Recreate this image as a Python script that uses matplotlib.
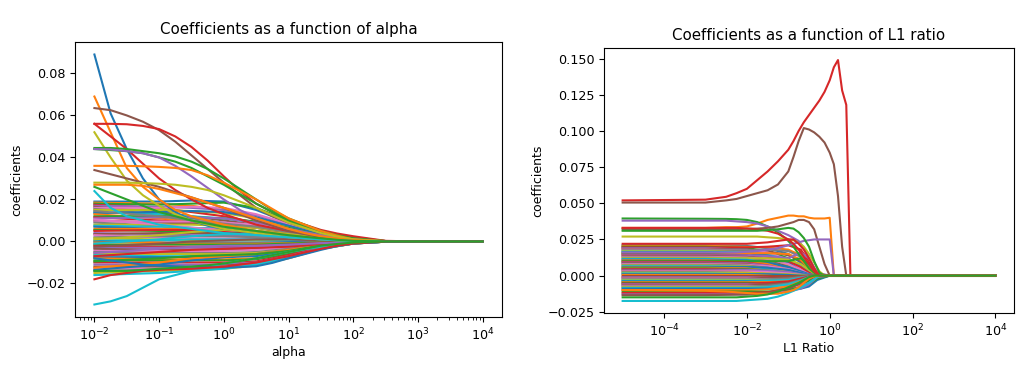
import numpy as np
import matplotlib
matplotlib.use("Agg")
import matplotlib.pyplot as plt
from matplotlib.ticker import NullLocator

# ---- left panel: coefficients vs alpha (values in 1e-3) ----
# coarse log10(alpha) grid for the dense band of coefficients
alpha_band_log = [-2, -1, -0.5, 0, 0.5, 1, 1.5, 2, 2.5, 4]
alpha_band = [
    [19, 19, 19.5, 19, 15, 9, 4, 1.2, 0.2, 0],
    [18.5, 18, 17, 15, 11.5, 7, 3, 0.8, 0.1, 0],
    [18, 17.5, 18, 18.5, 16, 10, 4.5, 1.3, 0.2, 0],
    [17.5, 16, 14, 12, 9, 5.5, 2.5, 0.7, 0.1, 0],
    [17, 16.5, 16, 15, 12.5, 8, 3.5, 1, 0.1, 0],
    [16.5, 14, 12, 10, 8, 5, 2.2, 0.6, 0.1, 0],
    [16, 16, 16.5, 16, 13, 8.5, 3.8, 1.1, 0.2, 0],
    [15.5, 13, 11, 9, 7, 4.5, 2, 0.6, 0.1, 0],
    [15, 15, 14.5, 13.5, 11, 7, 3.2, 0.9, 0.1, 0],
    [14, 13, 12, 11, 9, 6, 2.8, 0.8, 0.1, 0],
    [13.5, 14, 14.5, 14, 11.5, 7.5, 3.3, 1, 0.1, 0],
    [13, 11, 9.5, 8, 6.5, 4, 1.8, 0.5, 0.1, 0],
    [12, 12, 11.5, 11, 9.5, 6.5, 3, 0.9, 0.1, 0],
    [11.5, 10, 9, 8, 7, 4.5, 2, 0.6, 0.1, 0],
    [11, 11.5, 11.5, 11, 9, 6, 2.7, 0.8, 0.1, 0],
    [10, 9, 8.5, 8, 6.5, 4.2, 1.9, 0.5, 0.1, 0],
    [9.5, 9.5, 9.5, 9, 8, 5.5, 2.5, 0.7, 0.1, 0],
    [9, 7.5, 6.5, 6, 5, 3.3, 1.5, 0.4, 0.05, 0],
    [8, 8, 8, 7.5, 6.5, 4.5, 2, 0.6, 0.1, 0],
    [7.5, 7, 6.5, 6, 5, 3.5, 1.6, 0.5, 0.05, 0],
    [7, 6, 5, 4.5, 4, 3, 1.4, 0.4, 0.05, 0],
    [6, 6, 6, 5.5, 5, 3.5, 1.7, 0.5, 0.05, 0],
    [5.5, 5, 4.5, 4, 3.5, 2.5, 1.2, 0.3, 0.05, 0],
    [5, 5.5, 5.5, 5, 4.5, 3, 1.4, 0.4, 0.05, 0],
    [4, 3.5, 3, 3, 2.5, 2, 1, 0.3, 0, 0],
    [3.5, 4, 4, 4, 3.5, 2.5, 1.2, 0.3, 0.05, 0],
    [3, 2, 1.5, 1.5, 1.5, 1, 0.5, 0.2, 0, 0],
    [2, 2.5, 2.5, 2.5, 2, 1.5, 0.7, 0.2, 0, 0],
    [1.5, 1, 0.5, 0.5, 0.5, 0.5, 0.3, 0.1, 0, 0],
    [0.5, 0.5, 1, 1, 1, 0.8, 0.4, 0.1, 0, 0],
    [0, -0.5, -0.5, -0.5, -0.5, -0.3, -0.2, -0.1, 0, 0],
    [-0.5, -0.5, -1, -1, -1, -0.8, -0.4, -0.1, 0, 0],
    [-1.5, -1.5, -1.5, -1.5, -1.5, -1, -0.5, -0.1, 0, 0],
    [-2, -2.5, -2.5, -2.5, -2, -1.5, -0.7, -0.2, 0, 0],
    [-3, -3, -3, -3, -2.5, -2, -1, -0.3, 0, 0],
    [-3.5, -4, -4, -4, -3.5, -2.5, -1.2, -0.3, -0.05, 0],
    [-4.5, -4.5, -4.5, -4.5, -4, -3, -1.4, -0.4, -0.05, 0],
    [-5, -5.5, -5.5, -5.5, -5, -3.5, -1.6, -0.5, -0.05, 0],
    [-6, -6, -6, -6, -5.5, -4, -1.9, -0.5, -0.05, 0],
    [-6.5, -7, -7, -7, -6.5, -4.5, -2.1, -0.6, -0.1, 0],
    [-7.5, -7.5, -7.5, -7.5, -7, -5, -2.3, -0.6, -0.1, 0],
    [-8, -8.5, -8.5, -8.5, -8, -5.5, -2.5, -0.7, -0.1, 0],
    [-9, -9, -9, -9, -8.5, -6, -2.8, -0.8, -0.1, 0],
    [-10, -10, -10, -10, -9.5, -6.5, -3, -0.9, -0.1, 0],
    [-11, -11, -11, -11, -10, -7, -3.2, -0.9, -0.1, 0],
    [-12, -12, -12, -11.5, -10.5, -7.5, -3.4, -1, -0.1, 0],
    [-13, -13, -12.5, -12, -11, -8, -3.6, -1, -0.1, 0],
    [-14, -13.5, -13, -12.5, -11, -7.5, -3.5, -1, -0.1, 0],
    [-15, -14, -13.5, -13, -11.5, -8, -3.6, -1, -0.1, 0],
    [-16, -15, -14, -13, -11, -7.5, -3.4, -1, -0.1, 0],
    [-13.5, -11, -9, -7.5, -6, -4, -1.8, -0.5, -0.05, 0],
    [-12.5, -10, -8, -7, -6, -4, -1.8, -0.5, -0.05, 0],
    [-9.5, -8, -7, -6.5, -6, -4.5, -2, -0.6, -0.05, 0],
    [-7, -5, -4, -3.5, -3, -2.5, -1.2, -0.3, 0, 0],
    [-5.5, -3.5, -2.5, -2, -2, -1.5, -0.8, -0.2, 0, 0],
    [-2.5, -1, 0, 0.5, 1, 1, 0.5, 0.2, 0, 0],
    [10.5, 8, 6.5, 5.5, 4.5, 3, 1.4, 0.4, 0.05, 0],
    [14.5, 12, 10, 8.5, 7, 4.5, 2, 0.6, 0.1, 0],
    [1, 3, 4.5, 5.5, 5, 3.5, 1.6, 0.5, 0.05, 0],
    [-1, 1, 2.5, 3.5, 3.5, 2.5, 1.2, 0.3, 0.05, 0],
]

# finer grid for the stand-out paths
alpha_main_log = [-2, -1.75, -1.5, -1.25, -1, -0.75, -0.5, -0.25, 0, 0.25,
                  0.5, 0.75, 1, 1.25, 1.5, 1.75, 2, 2.5, 3, 4]
alpha_main = [
    [89, 61, 44, 30, 20, 14, 10, 7.5, 6, 5, 4, 3, 2, 1.5, 1, 0.5, 0.2, 0, 0, 0],
    [69, 52, 35, 26, 20, 15, 12, 10, 8, 6.5, 5, 4, 3, 2.2, 1.5, 0.8, 0.3, 0, 0, 0],
    [63.5, 62.5, 60, 57, 53, 47.5, 41, 34.5, 28, 22, 16, 12, 9, 6.5, 4.5, 3, 2, 0.2, 0, 0],
    [56, 56, 55.8, 55, 53.5, 50, 45, 38.5, 31, 24, 18, 14, 10.5, 8, 5.5, 3.8, 2.5, 0.3, 0, 0],
    [56, 50, 44, 37, 30, 24.5, 20, 16, 13, 10.5, 8, 6.5, 5, 4, 3, 2, 1, 0.1, 0, 0],
    [52, 40, 29, 22, 17, 13, 10, 8, 6, 5, 4, 3, 2, 1.5, 1, 0.5, 0.2, 0, 0, 0],
    [44.5, 44.5, 44, 43, 42, 40.5, 38, 34.5, 30, 25, 20, 15, 11, 8, 5, 3, 1.5, 0.2, 0, 0],
    [44, 43.5, 43, 42, 40, 38, 35, 31, 27, 22.5, 18, 14, 10, 7, 4.5, 2.5, 1.3, 0.1, 0, 0],
    [44, 43.8, 43, 42, 40, 36, 31, 25.5, 20, 15, 11, 8, 6, 4.5, 3, 2, 1, 0, 0, 0],
    [36, 36, 36, 35.8, 35.5, 35, 34, 31.5, 28, 24, 20, 15.5, 11, 8, 5, 2.8, 1, 0.2, 0, 0],
    [34, 32, 30, 28, 26, 23.5, 21, 18.5, 16, 13, 10, 7.5, 5, 3.5, 2, 1.2, 0.5, 0, 0, 0],
    [28, 28, 28, 27.8, 27.5, 27, 26, 24.5, 22, 19, 16, 12.5, 9, 6.5, 4, 2.3, 1, 0, 0, 0],
    [27, 27, 27, 26.5, 25, 23, 21, 18.5, 16, 13.5, 11, 8.5, 6, 4, 2.5, 1.4, 0.6, 0, 0, 0],
    [24, 16, 12, 10, 8, 7, 6, 5, 4, 3.5, 3, 2.5, 2, 1.5, 1, 0.6, 0.2, 0, 0, 0],
    [26, 23, 20, 17, 14, 12, 10, 8.5, 7, 6, 5, 4, 3, 2.2, 1.5, 0.8, 0.3, 0, 0, 0],
    [-30, -28.5, -26, -22, -18, -16, -14, -12, -10.5, -9.3, -8, -6.5, -5, -3.7, -2.5, -1.5, -0.8, -0.1, 0, 0],
    [-8, -9, -10, -11, -11.5, -11.8, -12, -12.2, -12.3, -12.2, -11.8, -10.2, -8, -6, -4, -2.2, -1, -0.1, 0, 0],
    [-18, -16, -15, -14, -13.5, -13.2, -13, -12.5, -12, -11, -10, -8.5, -7, -5.2, -3.5, -2, -1, 0, 0, 0],
    [-14, -14, -14, -13.5, -13, -12.5, -12, -11.3, -10.5, -9.3, -8, -6.5, -5, -3.5, -2, -1.2, -0.5, 0, 0, 0],
]
alpha_main_colors = ["C0", "C1", "C5", "C3", "C3", "C8", "C2", "C2", "C4", "C1",
                     "C5", "C8", "C1", "C9", "C2", "C9", "C0", "C3", "C2"]

# ---- right panel: coefficients vs L1 ratio (values in 1e-3) ----
l1_band_log = [-5, -3, -2, -1.5, -1, -0.7, -0.5, -0.3, 0, 4]
l1_band = [
    [21, 21, 20.5, 19, 15, 9, 4, 0, 0, 0],
    [20.5, 20.5, 20, 19.5, 18, 14, 8, 1, 0, 0],
    [20, 20, 19, 17, 12, 6, 2, 0, 0, 0],
    [19.5, 19.5, 19.5, 20, 21, 18, 10, 1, 0, 0],
    [19, 19, 18, 15, 9, 4, 1, 0, 0, 0],
    [18.5, 18.5, 18, 17, 14, 10, 6, 0.5, 0, 0],
    [18, 18, 17.5, 16, 11, 5, 1.5, 0, 0, 0],
    [17.5, 17.5, 17.5, 18, 17, 13, 7, 0.5, 0, 0],
    [17, 17, 16, 13, 7, 2.5, 0.5, 0, 0, 0],
    [16.5, 16.5, 16, 14.5, 11, 7, 3, 0, 0, 0],
    [16, 16, 15.5, 14, 9, 3.5, 1, 0, 0, 0],
    [15.5, 15.5, 15.5, 15.5, 15, 11, 5, 0, 0, 0],
    [15, 15, 14, 11, 5, 1.5, 0.3, 0, 0, 0],
    [14.5, 14.5, 14, 13, 10, 6, 2, 0, 0, 0],
    [14, 14, 14, 13.5, 12, 16, 12, 2, 0, 0],
    [13.5, 13.5, 13, 11, 6, 2, 0.5, 0, 0, 0],
    [13, 13, 12.5, 11.5, 8, 4, 1, 0, 0, 0],
    [12.5, 12.5, 12, 10, 5, 1.5, 0.3, 0, 0, 0],
    [12, 12, 12, 12, 11, 8, 4, 0, 0, 0],
    [11.5, 11.5, 11, 9, 4.5, 1.5, 0.3, 0, 0, 0],
    [11, 11, 10.5, 9, 6, 3, 1, 0, 0, 0],
    [10.5, 10.5, 10, 8, 4, 1, 0, 0, 0, 0],
    [10, 10, 10, 10, 10, 12, 8, 1, 0, 0],
    [9.5, 9.5, 9, 7, 3, 0.5, 0, 0, 0, 0],
    [9, 9, 8.5, 7, 4, 1.5, 0.3, 0, 0, 0],
    [8.5, 8.5, 8, 6, 2.5, 0.5, 0, 0, 0, 0],
    [8, 8, 7.5, 6.5, 4.5, 2, 0.5, 0, 0, 0],
    [7.5, 7.5, 7, 5.5, 2, 0, -0.5, 0, 0, 0],
    [7, 7, 6.5, 5, 2.5, 1, 0.2, 0, 0, 0],
    [6.5, 6.5, 6, 4.5, 1.5, 0, 0, 0, 0, 0],
    [6, 6, 6, 5.5, 4, 2, 0.5, 0, 0, 0],
    [5.5, 5.5, 5, 3.5, 1, -0.5, -0.5, 0, 0, 0],
    [5, 5, 4.5, 3.5, 2, 0.5, 0, 0, 0, 0],
    [4.5, 4.5, 4, 2.5, 0.5, -1, -0.5, 0, 0, 0],
    [4, 4, 4, 3.5, 2.5, 1, 0.3, 0, 0, 0],
    [3.5, 3.5, 3, 2, 0.5, 0, 0, 0, 0, 0],
    [3, 3, 3, 2.5, 1.5, 0.5, 0, 0, 0, 0],
    [2.5, 2.5, 2, 1, 0, -1, -1, 0, 0, 0],
    [2, 2, 2, 1.5, 1, 0.5, 0, 0, 0, 0],
    [1.5, 1.5, 1, 0.5, -0.5, -1.5, -1, 0, 0, 0],
    [1, 1, 1, 1, 0.5, 0, 0, 0, 0, 0],
    [0.5, 0.5, 0.5, 0, -1, -2, -1, 0, 0, 0],
    [0, 0, 0, 0, 0, 0, 0, 0, 0, 0],
    [-0.5, -0.5, -0.5, -0.5, -0.5, -0.5, -0.2, 0, 0, 0],
    [-1, -1, -1, -1.5, -2.5, -3, -1.5, 0, 0, 0],
    [-1.5, -1.5, -1.5, -1.5, -1, -0.5, 0, 0, 0, 0],
    [-2, -2, -2, -2.5, -3, -2.5, -1, 0, 0, 0],
    [-2.5, -2.5, -2.5, -2.5, -2, -1, -0.3, 0, 0, 0],
    [-3, -3, -3, -3.5, -4, -4, -2, 0, 0, 0],
    [-3.5, -3.5, -3.5, -3.5, -3, -1.5, -0.5, 0, 0, 0],
    [-4, -4, -4, -4.5, -5, -5, -3, -0.5, 0, 0],
    [-4.5, -4.5, -4.5, -4.5, -4, -2.5, -1, 0, 0, 0],
    [-5, -5, -5, -5.5, -6, -6, -4, -0.5, 0, 0],
    [-5.5, -5.5, -5.5, -5, -4, -2, -0.5, 0, 0, 0],
    [-6, -6, -6, -6.5, -7, -7, -5, -1, 0, 0],
    [-6.5, -6.5, -6.5, -6, -5, -3, -1, 0, 0, 0],
    [-7, -7, -7, -7.5, -8, -8, -6, -1, 0, 0],
    [-7.5, -7.5, -7.5, -7, -5.5, -3, -1, 0, 0, 0],
    [-8, -8, -8, -8, -8.5, -8.5, -7, -2, 0, 0],
    [-8.5, -8.5, -8.5, -8, -6, -3.5, -1, 0, 0, 0],
    [-9, -9, -9, -9, -9, -9, -7.5, -3, 0, 0],
    [-10, -10, -10, -9.5, -7.5, -4, -1.5, 0, 0, 0],
    [-11, -11, -11, -11, -10, -8, -6, -2, 0, 0],
    [-12, -12, -12, -11.5, -9, -5, -2, 0, 0, 0],
    [-13, -13, -13, -12.5, -11, -9, -6, -1, 0, 0],
    [-13.5, -13.5, -13, -12, -9, -5, -2, 0, 0, 0],
]

l1_main_log = [-5, -3, -2.5, -2.25, -2, -1.75, -1.5, -1.25, -1, -0.875, -0.75, -0.625,
               -0.5, -0.375, -0.25, -0.125, 0, 0.1, 0.2, 0.3, 0.4, 0.5, 4]
l1_main = [
    [52, 52.5, 54.5, 57, 60, 66, 72, 79, 87, 93, 100, 106, 111, 116, 121, 127, 135, 144, 149, 128, 118, 0, 0],
    [50.5, 50.5, 52, 53, 55, 57, 59, 63, 72, 82, 93, 102, 101, 99, 96, 92, 85, 77, 55, 20, 0, 0, 0],
    [33, 33, 33.5, 33.5, 34, 36, 38.5, 40, 41.5, 41.5, 41, 41, 40, 39.5, 39.5, 39.5, 40] + [0] * 6,
    [39.5, 39.3, 39.2, 39, 38.5, 37, 34, 30, 24, 20, 15, 10, 5, 2] + [0] * 9,
    [38, 38, 38, 37.5, 37, 36, 34, 31, 28, 26, 24, 19, 12, 5] + [0] * 9,
    [32, 32, 32, 32, 32.5, 32.5, 33, 34, 36, 37, 38.5, 38.5, 37, 32, 20, 8] + [0] * 7,
    [27, 27, 27, 27, 27, 27, 26.5, 26, 25, 24.5, 23, 20, 15, 9, 3] + [0] * 8,
    [16, 16, 16, 16, 16.5, 17, 18, 19, 21, 22, 23, 24, 24.5, 25, 25, 25, 25] + [0] * 6,
    [33, 33, 33, 33, 32.5, 32, 31, 29, 25, 22, 18, 13, 8, 3] + [0] * 9,
    [31, 31, 31, 31, 31, 31, 31.5, 32, 33, 32.5, 30, 26, 20, 10, 2] + [0] * 8,
    [-17.5, -17.5, -17.5, -17.5, -17, -16.5, -16, -14.5, -12, -10.5, -9, -7, -5, -2.5] + [0] * 9,
    [-10, -10.5, -11, -11.5, -12, -12.5, -12.5, -12.5, -11, -10, -8, -5, -2, -0.5] + [0] * 9,
    [22, 22, 22, 22, 22, 22.5, 23, 24, 25, 25, 22, 18, 12, 5] + [0] * 9,
    [-15, -15, -15, -15, -14.5, -14, -13, -11, -8, -6.5, -5, -3, -1] + [0] * 10,
]
l1_main_colors = ["C3", "C5", "C1", "C2", "C4", "C5", "C8", "C4",
                  "C3", "C2", "C9", "C1", "C3", "C2"]

plt.rcParams["axes.titlesize"] = 10.8
plt.rcParams["axes.labelsize"] = 9
plt.rcParams["xtick.labelsize"] = 9.2
plt.rcParams["ytick.labelsize"] = 9.2

fig = plt.figure(figsize=(10.24, 3.76), dpi=100)
ax1 = fig.add_axes([75 / 1024, 59 / 376, 427 / 1024, 275 / 376])
ax2 = fig.add_axes([604 / 1024, 63 / 376, 410 / 1024, 265 / 376])

# left
xb = 10.0 ** np.array(alpha_band_log)
for i, row in enumerate(alpha_band):
    ax1.plot(xb, np.array(row) / 1000, color=f"C{i % 10}")
xm = 10.0 ** np.array(alpha_main_log)
for row, c in zip(alpha_main, alpha_main_colors):
    ax1.plot(xm, np.array(row) / 1000, color=c)
ax1.set_xscale("log")
ax1.set_xlabel("alpha")
ax1.set_ylabel("coefficients")
ax1.yaxis.set_label_coords(-0.122, 0.5)
ax1.xaxis.set_label_coords(0.5, -0.105)
ax1.set_title("Coefficients as a function of alpha")

# right
xb = 10.0 ** np.array(l1_band_log)
for i, row in enumerate(l1_band):
    ax2.plot(xb, np.array(row) / 1000, color=f"C{i % 10}")
xm = 10.0 ** np.array(l1_main_log)
for row, c in zip(l1_main, l1_main_colors):
    ax2.plot(xm, np.array(row) / 1000, color=c)
ax2.set_xscale("log")
ax2.xaxis.set_minor_locator(NullLocator())
ax2.set_xticks([1e-4, 1e-2, 1e0, 1e2, 1e4])
ax2.set_xlabel("L1 Ratio")
ax2.set_ylabel("coefficients")
ax2.yaxis.set_label_coords(-0.146, 0.5)
ax2.xaxis.set_label_coords(0.5, -0.109)
ax2.set_title("Coefficients as a function of L1 ratio")

fig.savefig("out.png", dpi=100)
